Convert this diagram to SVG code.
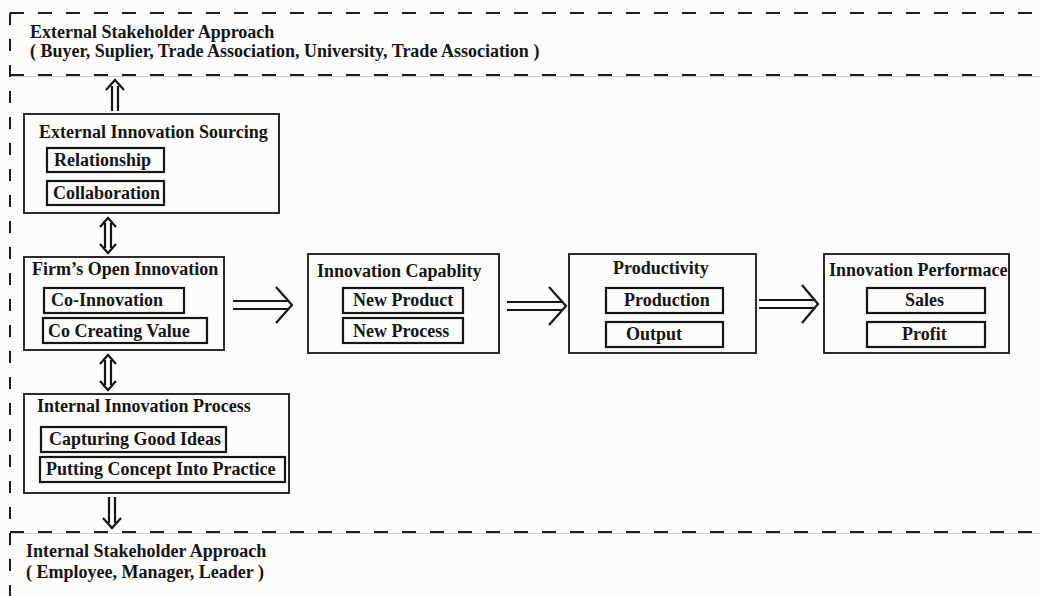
<svg xmlns="http://www.w3.org/2000/svg" width="1040" height="596" viewBox="0 0 1040 596">
<style>
.bg{fill:#fcfcfa}
.hband{fill:none;stroke:#1e1e1e;stroke-width:2;stroke-dasharray:14 14}
.vband{fill:none;stroke:#1e1e1e;stroke-width:2;stroke-dasharray:12 14}
.guide{fill:none;stroke:#c9c9c9;stroke-width:1}
.box{fill:none;stroke:#151515;stroke-width:1.8}
.sub{fill:none;stroke:#151515;stroke-width:2.2}
.t{font-family:"Liberation Serif","Times New Roman",serif;font-size:18px;font-weight:bold;fill:#151515}
.arr{fill:none;stroke:#151515;stroke-width:2.2;stroke-linejoin:miter}
</style>
<rect class="bg" x="0" y="0" width="1040" height="596"/>

<g id="external-stakeholder">
  <path class="guide" d="M10,76.5 H1040"/>
  <path class="hband" d="M10,13 H1040"/>
  <path class="hband" d="M10,75 H1040"/>
  <text class="t" x="30" y="38">External Stakeholder Approach</text>
  <text class="t" x="30" y="57">( Buyer, Suplier, Trade Association, University, Trade Association )</text>
</g>

<g id="internal-stakeholder">
  <path class="guide" d="M10,533.5 H1040"/>
  <path class="hband" d="M10,532 H1040"/>
  <text class="t" x="26" y="557">Internal Stakeholder Approach</text>
  <text class="t" x="26" y="578">( Employee, Manager, Leader )</text>
</g>

<g id="left-boundary">
  <path class="vband" d="M10,13 V596"/>
</g>

<g id="external-innovation-sourcing">
  <rect class="box" x="24" y="114" width="255" height="99"/>
  <text class="t" x="39" y="138">External Innovation Sourcing</text>
  <rect class="sub" x="47" y="148" width="117" height="24"/>
  <text class="t" x="54" y="166">Relationship</text>
  <rect class="sub" x="47" y="181" width="117" height="24"/>
  <text class="t" x="53" y="199">Collaboration</text>
</g>

<g id="firms-open-innovation">
  <rect class="box" x="24" y="257" width="200" height="93"/>
  <text class="t" x="32" y="275">Firm’s Open Innovation</text>
  <rect class="sub" x="44" y="288" width="140" height="25"/>
  <text class="t" x="51" y="306">Co-Innovation</text>
  <rect class="sub" x="43" y="318" width="164" height="25"/>
  <text class="t" x="48" y="337">Co Creating Value</text>
</g>

<g id="internal-innovation-process">
  <rect class="box" x="24" y="394" width="265" height="99"/>
  <text class="t" x="37" y="412">Internal Innovation Process</text>
  <rect class="sub" x="41" y="427" width="185" height="25"/>
  <text class="t" x="49" y="445">Capturing Good Ideas</text>
  <rect class="sub" x="40" y="457" width="245" height="25"/>
  <text class="t" x="46" y="475">Putting Concept Into Practice</text>
</g>

<g id="innovation-capability">
  <rect class="box" x="308" y="254" width="191" height="99"/>
  <text class="t" x="317" y="277">Innovation Capablity</text>
  <rect class="sub" x="343" y="288" width="120" height="25"/>
  <text class="t" x="353" y="306">New Product</text>
  <rect class="sub" x="343" y="318" width="120" height="25"/>
  <text class="t" x="353" y="337">New Process</text>
</g>

<g id="productivity">
  <rect class="box" x="569" y="254" width="187" height="99"/>
  <text class="t" x="613" y="274">Productivity</text>
  <rect class="sub" x="606" y="288" width="117" height="25"/>
  <text class="t" x="624" y="306">Production</text>
  <rect class="sub" x="606" y="322" width="117" height="25"/>
  <text class="t" x="626" y="340">Output</text>
</g>

<g id="innovation-performance">
  <rect class="box" x="824" y="254" width="185" height="99"/>
  <text class="t" x="829" y="276">Innovation Performace</text>
  <rect class="sub" x="867" y="288" width="118" height="25"/>
  <text class="t" x="905" y="306">Sales</text>
  <rect class="sub" x="867" y="322" width="118" height="25"/>
  <text class="t" x="902" y="340">Profit</text>
</g>

<g id="connectors">
  <!-- up double arrow to external stakeholder -->
  <path class="arr" d="M106,90 L115,80 L124,90 M112,86 V111 M118,86 V111"/>
  <!-- bidirectional between sourcing and firm -->
  <path class="arr" d="M100,227 L108,218 L116,227 M100,244 L108,253 L116,244 M105,223 V248 M111,223 V248"/>
  <!-- bidirectional between firm and process -->
  <path class="arr" d="M100,364 L108,355 L116,364 M100,381 L108,390 L116,381 M105,360 V385 M111,360 V385"/>
  <!-- down double arrow to internal stakeholder -->
  <path class="arr" d="M103,518 L112,528 L121,518 M109,497 V523 M115,497 V523"/>
  <!-- firm -> capability -->
  <path class="arr" d="M276,287 L292,305 L276,323 M233,301 H288 M233,309 H288"/>
  <!-- capability -> productivity -->
  <path class="arr" d="M549,287 L566,306 L549,325 M507,302 H562 M507,310 H562"/>
  <!-- productivity -> performance -->
  <path class="arr" d="M802,285 L818,304 L802,323 M759,300 H814 M759,308 H814"/>
</g>
</svg>
